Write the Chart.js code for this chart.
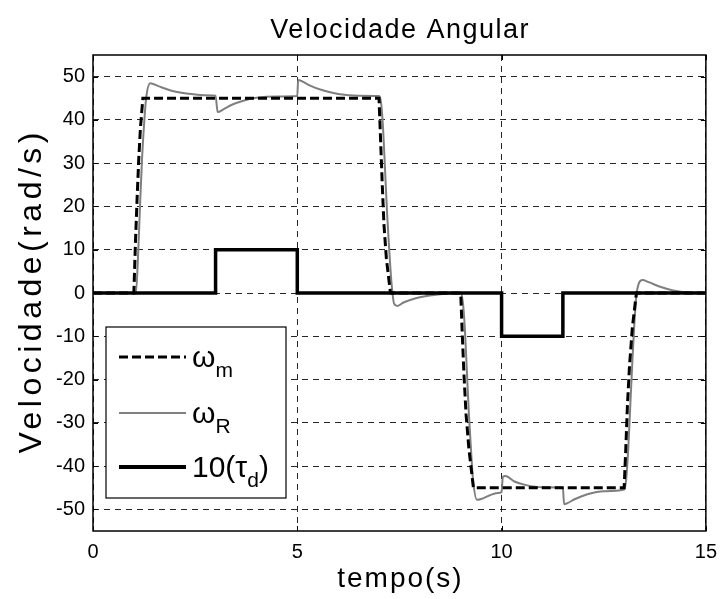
<!DOCTYPE html>
<html><head><meta charset="utf-8">
<script src="https://cdn.jsdelivr.net/npm/chart.js@4/dist/chart.umd.min.js"></script>
<style>html,body{margin:0;padding:0;background:#fff;}</style>
</head><body>
<canvas id="c" width="726" height="599"></canvas>
<script>
const titleText = 'Velocidade Angular';
const xTitle = 'tempo(s)';
const yTitle = 'Velocidade(rad/s)';
const xTicks = [0, 5, 10, 15];
const yTicks = [-50, -40, -30, -20, -10, 0, 10, 20, 30, 40, 50];

// omega_m (reference)
const tRef   = [0, 1.0, 1.04, 1.08, 1.12, 1.16, 1.22, 7.0, 7.04, 7.08, 7.12, 7.18, 7.28, 9.0, 9.04, 9.08, 9.13, 9.2, 9.31, 13.0, 13.04, 13.08, 13.13, 13.2, 13.3, 15];
const omegaM = [0, 0, 12, 22, 31, 38, 45, 45, 35, 25, 16, 8, 0, 0, -10, -19, -28, -36, -45, -45, -36, -26, -17, -8, 0, 0];

// omega_R (real)
const tReal  = [0, 1.05, 1.1, 1.15, 1.2, 1.25, 1.3, 1.4, 1.6, 1.9, 2.3, 2.7, 3.0,
                3.05, 3.2, 3.4, 3.7, 4.0, 4.5, 5.0,
                5.02, 5.1, 5.3, 5.6, 6.0, 6.5, 7.0,
                7.05, 7.1, 7.15, 7.2, 7.25, 7.3, 7.37, 7.45, 7.6, 7.9, 8.3, 8.7, 9.0,
                9.05, 9.1, 9.15, 9.2, 9.25, 9.3, 9.4, 9.5, 9.7, 9.9, 10.0,
                10.03, 10.1, 10.3, 10.6, 11.0, 11.5,
                11.53, 11.6, 11.8, 12.1, 12.5, 13.0,
                13.05, 13.1, 13.15, 13.2, 13.25, 13.3, 13.35, 13.45, 13.6, 13.9, 14.2, 14.6, 15];
const omegaR = [0, 0, 8, 20, 31, 39, 45, 48.5, 47.8, 46.8, 46.1, 45.7, 45.6,
                41.8, 42.5, 43.5, 44.5, 45.1, 45.4, 45.5,
                49.2, 49.0, 48.0, 46.9, 46.0, 45.6, 45.5,
                44, 38, 28, 18, 10, 3, -2.5, -3, -2.2, -1.2, -0.5, -0.1, 0,
                -2, -8, -18, -28, -36, -43, -47.8, -47.6, -46.8, -46.2, -46,
                -42.5, -42.3, -43.5, -44.4, -44.9, -45,
                -48.8, -48.6, -47.6, -46.5, -45.8, -45.4,
                -43, -36, -26, -16, -7, -0.5, 2, 3, 2.5, 1.4, 0.6, 0.1, 0];

// 10 * tau_d
const tTau  = [0, 3, 3, 5, 5, 10, 10, 11.5, 11.5, 15];
const tau10 = [0, 0, 10, 10, 0, 0, -10, -10, 0, 0];

const legendItems = [
  {pre: '', base: 'ω', sub: 'm', post: '', color: '#000', width: 3, dash: [9, 4]},
  {pre: '', base: 'ω', sub: 'R', post: '', color: '#808080', width: 2, dash: []},
  {pre: '10(', base: 'τ', sub: 'd', post: ')', color: '#000', width: 4, dash: []}
];

const FONT = '"Liberation Sans", Arial, Helvetica, sans-serif';
const pts = (xs, ys) => xs.map((x, i) => ({x: x, y: ys[i]}));

function spacedText(ctx, text, x, y, spacing) {
  if ('letterSpacing' in ctx) {
    ctx.letterSpacing = spacing + 'px';
    const w = ctx.measureText(text).width - spacing;
    ctx.fillText(text, x - w / 2, y);
    ctx.letterSpacing = '0px';
  } else {
    ctx.textAlign = 'center';
    ctx.fillText(text, x, y);
  }
}

const framePlugin = {
  id: 'frame',
  afterDatasetsDraw(chart) {
    const ctx = chart.ctx, ca = chart.chartArea;
    const xs = chart.scales.x, ys = chart.scales.y;
    ctx.save();
    ctx.strokeStyle = '#000';
    ctx.lineWidth = 1;
    ctx.setLineDash([]);
    ctx.beginPath();
    const tl = 5;
    xTicks.forEach(v => {
      const px = Math.round(xs.getPixelForValue(v)) + 0.5;
      ctx.moveTo(px, ca.bottom); ctx.lineTo(px, ca.bottom - tl);
      ctx.moveTo(px, ca.top); ctx.lineTo(px, ca.top + tl);
    });
    yTicks.forEach(v => {
      const py = Math.round(ys.getPixelForValue(v)) + 0.5;
      ctx.moveTo(ca.left, py); ctx.lineTo(ca.left + tl, py);
      ctx.moveTo(ca.right, py); ctx.lineTo(ca.right - tl, py);
    });
    ctx.stroke();
    ctx.lineWidth = 1.5;
    ctx.strokeRect(ca.left, ca.top, ca.right - ca.left, ca.bottom - ca.top);

    // legend
    const bx = ca.left + 13, by = ca.top + 272, bw = 180, bh = 171;
    ctx.fillStyle = '#fff';
    ctx.fillRect(bx, by, bw, bh);
    ctx.lineWidth = 1.2;
    ctx.strokeRect(bx, by, bw, bh);
    const rowY = [by + 30, by + 86, by + 140];
    legendItems.forEach((it, i) => {
      const y = rowY[i];
      ctx.beginPath();
      ctx.strokeStyle = it.color;
      ctx.lineWidth = it.width;
      ctx.setLineDash(it.dash);
      ctx.moveTo(bx + 13, y); ctx.lineTo(bx + 80, y);
      ctx.stroke();
      ctx.setLineDash([]);
      ctx.fillStyle = '#000';
      ctx.textBaseline = 'alphabetic';
      ctx.textAlign = 'left';
      let x = bx + 86;
      const base = y + 10;
      ctx.font = '30px ' + FONT;
      const main = it.pre + it.base;
      ctx.fillText(main, x, base);
      x += ctx.measureText(main).width;
      ctx.font = '21px ' + FONT;
      ctx.fillText(it.sub, x, base + 10);
      x += ctx.measureText(it.sub).width;
      if (it.post) {
        ctx.font = '30px ' + FONT;
        ctx.fillText(it.post, x, base);
      }
    });

    // titles
    ctx.fillStyle = '#000';
    ctx.textAlign = 'left';
    ctx.textBaseline = 'alphabetic';
    const cx = (ca.left + ca.right) / 2, cy = (ca.top + ca.bottom) / 2;
    ctx.font = '27px ' + FONT;
    spacedText(ctx, titleText, cx, 38, 1.5);
    ctx.font = '28px ' + FONT;
    spacedText(ctx, xTitle, cx, 587, 2);
    ctx.save();
    ctx.translate(41, cy);
    ctx.rotate(-Math.PI / 2);
    ctx.font = '32px ' + FONT;
    spacedText(ctx, yTitle, 0, 0, 4.5);
    ctx.restore();
    ctx.restore();
  }
};

const gridOpts = {
  color: 'rgba(0,0,0,0.85)',
  lineWidth: 1,
  drawTicks: false
};

new Chart(document.getElementById('c'), {
  type: 'line',
  data: {
    datasets: [
      {label: '10(τd)', data: pts(tTau, tau10), borderColor: '#000', borderWidth: 3.5, pointRadius: 0, fill: false, tension: 0},
      {label: 'ωm', data: pts(tRef, omegaM), borderColor: '#000', borderWidth: 3, borderDash: [9, 4], pointRadius: 0, fill: false, tension: 0},
      {label: 'ωR', data: pts(tReal, omegaR), borderColor: '#7f7f7f', borderWidth: 2, pointRadius: 0, fill: false, tension: 0.3, cubicInterpolationMode: 'monotone'}
    ]
  },
  options: {
    responsive: false,
    animation: false,
    devicePixelRatio: 1,
    layout: {padding: {left: 0, right: 14, top: 55, bottom: 0}},
    plugins: {
      legend: {display: false},
      tooltip: {enabled: false},
      title: {display: false}
    },
    scales: {
      x: {
        type: 'linear', min: 0, max: 15,
        afterBuildTicks: s => { s.ticks = xTicks.map(v => ({value: v})); },
        afterFit: s => { s.height = 68; },
        grid: gridOpts,
        border: {display: false, dash: [6, 5]},
        ticks: {color: '#000', font: {family: FONT, size: 20}, padding: 9, maxRotation: 0}
      },
      y: {
        type: 'linear', min: -55, max: 55,
        afterBuildTicks: s => { s.ticks = yTicks.map(v => ({value: v})); },
        afterFit: s => { s.width = 93; },
        grid: gridOpts,
        border: {display: false, dash: [6, 5]},
        ticks: {color: '#000', font: {family: FONT, size: 20}, padding: 8}
      }
    }
  },
  plugins: [framePlugin]
});
</script>
</body></html>
